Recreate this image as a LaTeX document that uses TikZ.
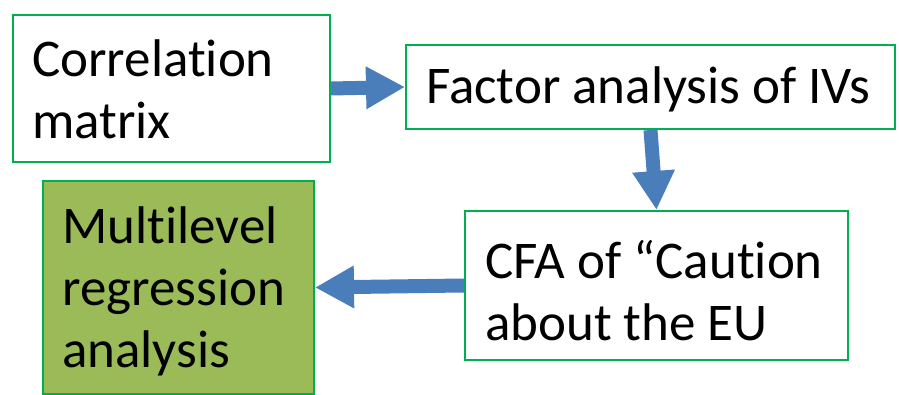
\documentclass[tikz,border=0pt]{standalone}
\usepackage{fontspec}
\setmainfont{Carlito}[Ligatures={NoCommon}]
\usetikzlibrary{arrows.meta}
\definecolor{boxline}{HTML}{00B050}
\definecolor{boxfill}{HTML}{9BBB59}
\definecolor{flow}{HTML}{4A7EBB}
\begin{document}
\begin{tikzpicture}[x=1pt,y=-1pt,
  stage/.style={draw=boxline, line width=2pt, fill=white, rectangle},
  label/.style={anchor=west, inner sep=0pt, align=left,
    font=\fontsize{53pt}{62pt}\selectfont},
  flowarrow/.style={draw=flow, line width=14pt,
    -{Triangle[length=39pt,width=40pt]}, color=flow}]
  \useasboundingbox (0,0) rectangle (899,395);
  % boxes
  \node[stage, minimum width=317pt, minimum height=147pt] (corr) at (171.5,88.5) {};
  \node[stage, minimum width=489pt, minimum height=84pt] (fact) at (650.5,87) {};
  \node[stage, minimum width=383pt, minimum height=149pt] (cfa) at (656.5,285.5) {};
  \node[stage, fill=boxfill, minimum width=271pt, minimum height=213pt] (multi) at (178.5,287.5) {};
  % texts
  \node[label] (corrtext) at ([xshift=20pt,yshift=-1pt]corr.west) {Correlation\\matrix};
  \node[label] (facttext) at ([xshift=21pt,yshift=-2pt]fact.west) {Factor analysis of IVs};
  \node[label] (cfatext) at ([xshift=21pt,yshift=-5pt]cfa.west) {CFA of “Caution\\about the EU};
  \node[label] (multitext) at ([xshift=20pt,yshift=-4pt]multi.west) {Multilevel\\regression\\analysis};
  % flow
  \draw[flowarrow] (corr.east) -- (fact.west);
  \draw[flowarrow] (fact.south) -- (cfa.north);
  \draw[flowarrow] (cfa.west) -- (multi.east);
\end{tikzpicture}
\end{document}
